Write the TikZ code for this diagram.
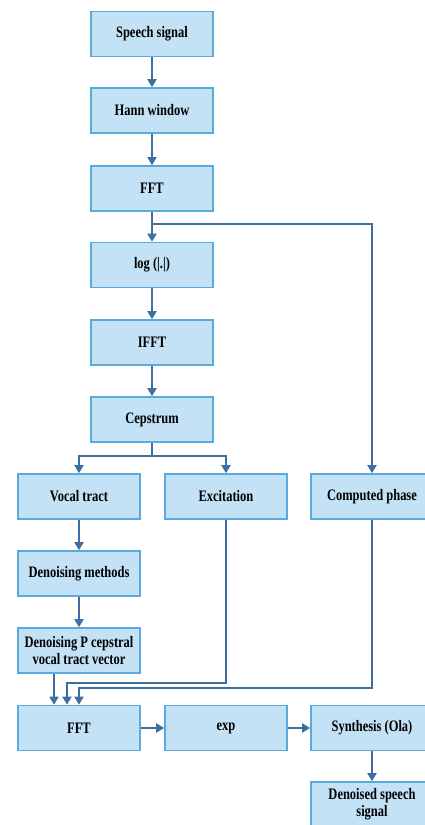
\documentclass[tikz,border=0pt]{standalone}
\usepackage{fontspec}
\setmainfont{Liberation Serif}
\newfontfamily\blkfont[FakeStretch=0.78]{Liberation Serif}
\usetikzlibrary{arrows.meta}
\definecolor{boxfill}{HTML}{C3E2F6}
\definecolor{boxline}{HTML}{5AAADD}
\definecolor{arrline}{HTML}{3F6FA0}
\begin{document}
\begin{tikzpicture}[x=1pt,y=-1pt,
	blk/.style={draw=boxline,line width=1.6pt,fill=boxfill,minimum width=122pt,minimum height=45pt,inner sep=2pt,align=center,font=\blkfont\fontsize{16}{17}\selectfont\bfseries},
	arr/.style={draw=arrline,line width=1.8pt,-{Triangle[width=9pt,length=8pt]}},
	wire/.style={draw=arrline,line width=1.6pt}]
	\useasboundingbox (0,0) rectangle (425,825);
	\node[blk] (speech) at (152,34) {Speech signal};
	\node[blk] (hann) at (152,110.5) {Hann window};
	\node[blk] (fft) at (152,188.5) {FFT};
	\node[blk] (logabs) at (152,265) {log (|.|)};
	\node[blk] (ifft) at (152,342.5) {IFFT};
	\node[blk] (cep) at (152,419.5) {Cepstrum};
	\node[blk] (vocal) at (79,496.5) {Vocal tract};
	\node[blk] (exc) at (226,496.5) {Excitation};
	\node[blk] (phase) at (372,496.5) {Computed phase};
	\node[blk] (denmeth) at (79,573.5) {Denoising methods};
	\node[blk] (denvec) at (79,650.5) {Denoising P cepstral\\vocal tract vector};
	\node[blk] (fftb) at (79,728) {FFT};
	\node[blk] (expo) at (226,728) {exp};
	\node[blk] (ola) at (372,728) {Synthesis (Ola)};
	\node[blk] (out) at (372,804.5) {Denoised speech\\signal};
	\coordinate (fftsplit) at (152,224);
	\coordinate (cepsplit) at (152,456);
	\coordinate (excturn) at (226,683);
	\coordinate (phaseturn) at (372,688);
	\draw[arr] (speech) -- (hann);
	\draw[arr] (hann) -- (fft);
	\draw[arr] (fft) -- (logabs);
	\draw[arr] (fftsplit) -| (phase);
	\draw[arr] (logabs) -- (ifft);
	\draw[arr] (ifft) -- (cep);
	\draw[wire] (cep) -- (cepsplit);
	\draw[arr] (cepsplit) -| (vocal);
	\draw[arr] (cepsplit) -| (exc);
	\draw[arr] (vocal) -- (denmeth);
	\draw[arr] (denmeth) -- (denvec);
	\draw[arr] ([xshift=-25pt]denvec.south) -- ([xshift=-25pt]fftb.north);
	\draw[arr] (exc) -- (excturn) -| ([xshift=-12pt]fftb.north);
	\draw[arr] (phase) -- (phaseturn) -| (fftb);
	\draw[arr] (fftb) -- (expo);
	\draw[arr] (expo) -- (ola);
	\draw[arr] (ola) -- (out);
\end{tikzpicture}
\end{document}
